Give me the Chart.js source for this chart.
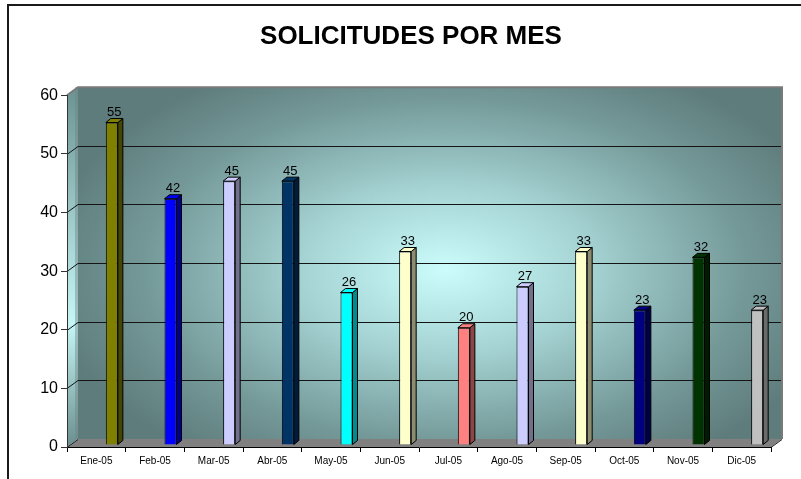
<!DOCTYPE html>
<html><head><meta charset="utf-8">
<script src="https://cdn.jsdelivr.net/npm/chart.js@4.4.1/dist/chart.umd.min.js"></script>
<style>html,body{margin:0;padding:0;background:#fff;}canvas{display:block;}</style>
</head><body>
<canvas id="c" width="801" height="479"></canvas>
<script>
const categories = ['Ene-05','Feb-05','Mar-05','Abr-05','May-05','Jun-05','Jul-05','Ago-05','Sep-05','Oct-05','Nov-05','Dic-05'];
const values = [55,42,45,45,26,33,20,27,33,23,32,23];
const barColors = ['#808000','#0000FF','#CCCCFF','#003366','#00FFFF','#FFFFCC','#FF8080','#CCCCFF','#FFFFCC','#000080','#003300','#C0C0C0'];
const yMin = 0, yMax = 60, yStep = 10;
const titleText = 'SOLICITUDES POR MES';

const FONT = "'Liberation Sans', Arial, sans-serif";
const DX = 11, DY = -8;            // wall depth
const SHIFT_X = 15.5, SHIFT_Y = -2; // bar placement inside depth
const BDX = 5, BDY = -4;           // bar depth

function darker(hex, f){
  const n = parseInt(hex.slice(1),16);
  const r = Math.round(((n>>16)&255)*f), g = Math.round(((n>>8)&255)*f), b = Math.round((n&255)*f);
  return 'rgb('+r+','+g+','+b+')';
}

const excel3d = {
  id: 'excel3d',
  afterLayout(chart){
    const t = chart.titleBlock;
    if (t){ t.left = 0; t.right = 822; t.width = 822; }
  },
  beforeDraw(chart){
    const {ctx, chartArea:a, scales:{y}} = chart;
    ctx.save();
    ctx.fillStyle = '#fff'; ctx.fillRect(0,0,chart.width,chart.height);
    // outer frame
    ctx.strokeStyle = '#1a1a1a'; ctx.lineWidth = 2;
    ctx.beginPath(); ctx.moveTo(8,chart.height); ctx.lineTo(8,5); ctx.lineTo(chart.width,5); ctx.stroke();

    const bl = a.left+DX, bt = a.top+DY, br = a.right+DX, bb = a.bottom+DY;
    // back wall with elliptical radial gradient
    ctx.save();
    ctx.beginPath(); ctx.rect(bl, bt, br-bl, bb-bt); ctx.clip();
    const cx = (bl+br)/2 + 15, cy = bt + (bb-bt)*0.52;
    ctx.translate(cx, cy); ctx.scale(1.75, 1);
    const g = ctx.createRadialGradient(0,0,0,0,0,230);
    g.addColorStop(0, '#ccfcfc');
    g.addColorStop(0.35, '#a6d4d4');
    g.addColorStop(0.75, '#749898');
    g.addColorStop(1, '#5f7c7c');
    ctx.fillStyle = g; ctx.fillRect(-600,-400,1200,800);
    ctx.restore();

    // left wall
    const lg = ctx.createLinearGradient(0, a.top, 0, a.bottom);
    lg.addColorStop(0, '#6f9696');
    lg.addColorStop(0.65, '#c6f6f6');
    lg.addColorStop(1, '#6a8e8e');
    ctx.fillStyle = lg;
    ctx.beginPath(); ctx.moveTo(a.left,a.top); ctx.lineTo(bl,bt); ctx.lineTo(bl,bb); ctx.lineTo(a.left,a.bottom); ctx.closePath(); ctx.fill();
    ctx.fillStyle = 'rgba(110,130,130,0.45)';
    ctx.fillRect(bl-3, bt, 3, bb-bt);

    // floor
    ctx.fillStyle = '#808080';
    ctx.beginPath(); ctx.moveTo(a.left,a.bottom); ctx.lineTo(bl,bb); ctx.lineTo(br,bb); ctx.lineTo(a.right,a.bottom); ctx.closePath(); ctx.fill();

    // gridlines on back wall + left wall
    ctx.strokeStyle = '#141414'; ctx.lineWidth = 1;
    for (let v = yMin+yStep; v < yMax; v += yStep){
      const py = Math.round(y.getPixelForValue(v)) + 0.5;
      ctx.beginPath(); ctx.moveTo(a.left, py); ctx.lineTo(bl, py+DY); ctx.lineTo(br, py+DY); ctx.stroke();
    }
    // wall edges
    ctx.strokeStyle = '#7a7a7a'; ctx.lineWidth = 2;
    ctx.beginPath(); ctx.moveTo(a.left, a.top); ctx.lineTo(bl, bt); ctx.lineTo(br, bt); ctx.lineTo(br, bb); ctx.stroke();
    ctx.strokeStyle = '#222'; ctx.lineWidth = 1;
    ctx.beginPath(); ctx.moveTo(a.left, a.bottom+0.5); ctx.lineTo(bl, bb+0.5); ctx.stroke();
    ctx.beginPath(); ctx.moveTo(a.right, a.bottom+0.5); ctx.lineTo(br, bb+0.5); ctx.stroke();
    ctx.restore();
  },
  beforeDatasetsDraw(chart){
    chart.ctx.save();
    chart.ctx.translate(SHIFT_X, SHIFT_Y);
  },
  afterDatasetsDraw(chart){
    const ctx = chart.ctx;
    const meta = chart.getDatasetMeta(0);
    const ds = chart.data.datasets[0];
    meta.data.forEach((bar, i) => {
      const {x, y, base, width} = bar.getProps(['x','y','base','width'], true);
      const l = x - width/2, r = x + width/2;
      ctx.lineWidth = 1; ctx.strokeStyle = '#000';
      // side
      ctx.fillStyle = darker(barColors[i], 0.55);
      ctx.beginPath(); ctx.moveTo(r, y); ctx.lineTo(r+BDX, y+BDY); ctx.lineTo(r+BDX, base+BDY); ctx.lineTo(r, base); ctx.closePath(); ctx.fill(); ctx.stroke();
      // top
      ctx.fillStyle = barColors[i];
      ctx.beginPath(); ctx.moveTo(l, y); ctx.lineTo(l+BDX, y+BDY); ctx.lineTo(r+BDX, y+BDY); ctx.lineTo(r, y); ctx.closePath(); ctx.fill(); ctx.stroke();
      // label
      ctx.fillStyle = '#000';
      ctx.font = '13px ' + FONT;
      ctx.textAlign = 'center'; ctx.textBaseline = 'alphabetic';
      ctx.fillText(String(ds.data[i]), x + 2.5, y - 6.5);
    });
    ctx.restore();
  }
};

new Chart(document.getElementById('c'), {
  type: 'bar',
  data: {
    labels: categories,
    datasets: [{
      data: values,
      backgroundColor: barColors,
      borderColor: '#000',
      borderWidth: 1,
      categoryPercentage: 1,
      barPercentage: 0.205,
      clip: false
    }]
  },
  options: {
    responsive: false,
    animation: false,
    devicePixelRatio: 1,
    layout: { padding: { left: 0, right: 30, top: 0, bottom: 0 } },
    plugins: {
      legend: { display: false },
      tooltip: { enabled: false },
      title: {
        display: true, text: titleText, color: '#000',
        font: { family: FONT, size: 26, weight: 'bold' },
        padding: { top: 21, bottom: 43 }
      }
    },
    scales: {
      x: {
        grid: { offset: true, drawOnChartArea: false, drawTicks: true, tickLength: 5, color: '#000' },
        border: { display: true, color: '#000', width: 1 },
        ticks: { color: '#000', font: { family: FONT, size: 10 }, padding: 3, maxRotation: 0, autoSkip: false },
        afterFit(s){ s.height = 32; }
      },
      y: {
        min: yMin, max: yMax,
        grid: { drawOnChartArea: false, drawTicks: true, tickLength: 6, color: '#333' },
        border: { display: true, color: '#333', width: 1 },
        ticks: { stepSize: yStep, color: '#000', font: { family: FONT, size: 16 }, padding: 3 },
        afterFit(s){ s.width = 67; }
      }
    }
  },
  plugins: [excel3d]
});
</script>
</body></html>
